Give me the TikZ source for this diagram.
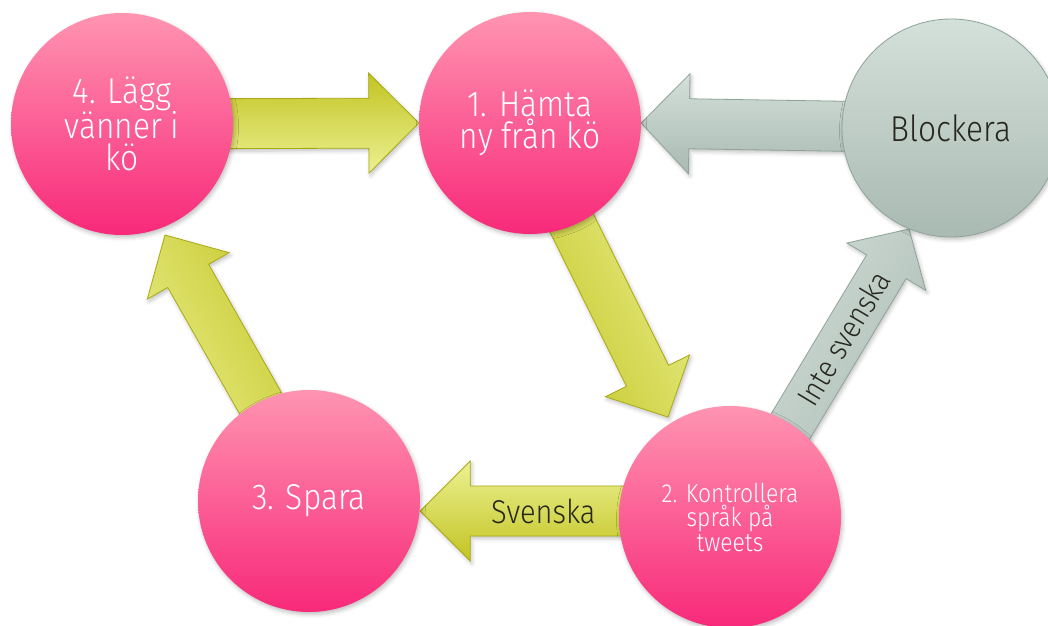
\documentclass[tikz,border=0pt]{standalone}
\usepackage{fontspec}
\IfFontExistsTF{Fira Sans Light}
  {\setmainfont{Fira Sans Light}[FakeStretch=0.88]}
  {\IfFontExistsTF{FiraSans-Light}
    {\setmainfont{FiraSans-Light}[FakeStretch=0.88]}
    {\setmainfont{Fira Sans}[FakeStretch=0.86]}}
\usetikzlibrary{calc,shadows.blur,backgrounds}

\definecolor{pinkT}{HTML}{FF94B1}
\definecolor{pinkB}{HTML}{F8297A}
\definecolor{ygD}{HTML}{C2C422}
\definecolor{ygL}{HTML}{ECF192}
\definecolor{ygE}{HTML}{A9AA12}
\definecolor{grL}{HTML}{D4E0DA}
\definecolor{grD}{HTML}{A9BAB2}
\definecolor{grE}{HTML}{8FA399}
\definecolor{txt}{HTML}{27271F}

% #1 options, #2 tail, #3 tip, #4 shaft half width, #5 head half width, #6 head length
\newcommand\fatarrow[6]{%
  \coordinate (fah) at ($(#3)!#6!(#2)$);
  \path[#1] ($(#2)!#4!90:(#3)$) -- ($(fah)!#4!90:(#3)$) -- ($(fah)!#5!90:(#3)$)
    -- (#3) -- ($(fah)!#5!-90:(#3)$) -- ($(fah)!#4!-90:(#3)$) -- ($(#2)!#4!-90:(#3)$) -- cycle;
}

\tikzset{
  softshadow/.style={blur shadow={shadow xshift=1.5pt, shadow yshift=-2.5pt, shadow opacity=25, shadow blur radius=4pt}},
  pinkc/.style={circle, minimum size=222pt, inner sep=0pt, top color=pinkT, bottom color=pinkB,
    text=white, align=center, softshadow},
  greyc/.style={circle, minimum size=218pt, inner sep=0pt, top color=grL, bottom color=grD,
    draw=grE, line width=0.8pt, text=txt, align=center, softshadow},
  bigtext/.style={font=\fontsize{36}{32}\selectfont},
  smalltext/.style={font=\fontsize{26}{24.5}\selectfont},
  lbl/.style={text=txt, inner sep=0pt, font=\fontsize{33}{33}\selectfont},
  ygarrow/.style={draw=ygE, line width=0.8pt, line join=miter, softshadow},
  grarrow/.style={draw=grE, line width=0.8pt, line join=miter, softshadow},
}

\begin{document}
\begin{tikzpicture}[x=1pt, y=-1pt]
  \useasboundingbox (0,0) rectangle (1048,625);

  \node[pinkc, bigtext] (c4) at (122,124) {4. Lägg\\vänner i\\kö};
  \node[pinkc, bigtext] (c1) at (530,123) {1. Hämta\\ny från kö};
  \node[greyc, bigtext] (bl) at (951,128) {Blockera};
  \node[pinkc, bigtext] (c3) at (309,501) {3. Spara};
  \node[pinkc, smalltext] (c2) at (730,517) {2. Kontrollera\\språk på\\tweets};

  \begin{scope}[on background layer]
    % 4 -> 1
    \fatarrow{ygarrow, top color=ygD, bottom color=ygL, shading angle=0}{c4.center}{c1.west}{25pt}{50pt}{50pt}
    % Blockera -> 1
    \fatarrow{grarrow, top color=grD, bottom color=grL, shading angle=180}{bl.center}{c1.east}{25pt}{50pt}{48pt}
    % 1 -> 2
    \coordinate (t12) at (668,417);
    \coordinate (s12) at ($(c1.center)+(-8,0)$);
    \fatarrow{ygarrow, top color=ygL, bottom color=ygD, shading angle=-63.6}{s12}{t12}{23.5pt}{47pt}{46pt}
    % 2 -> 3 (Svenska)
    \coordinate (s23) at ($(c2.center)+(0,-6)$);
    \coordinate (t23) at (c3.east |- s23);
    \fatarrow{ygarrow, top color=ygD, bottom color=ygL, shading angle=180}{s23}{t23}{25pt}{50pt}{50pt}
    % 3 -> 4
    \coordinate (t34) at (165,235);
    \coordinate (s34) at ($(c3.center)+(7,0)$);
    \fatarrow{ygarrow, top color=ygL, bottom color=ygD, shading angle=119.6}{s34}{t34}{23.5pt}{47pt}{47pt}
    % 2 -> Blockera (Inte svenska)
    \coordinate (t2b) at (909,229);
    \coordinate (s2b) at ($(c2.center)+(6,0)$);
    \fatarrow{grarrow, top color=grL, bottom color=grD, shading angle=58.9}{s2b}{t2b}{23pt}{46pt}{44pt}
  \end{scope}

  \node[lbl] (svl) at ($(t23)!0.62!(c2.west |- s23)$) {Svenska};
  \path (s2b) -- node[lbl, sloped, pos=0.62, font=\fontsize{31}{31}\selectfont] (isl) {Inte svenska} (t2b);
\end{tikzpicture}
\end{document}
